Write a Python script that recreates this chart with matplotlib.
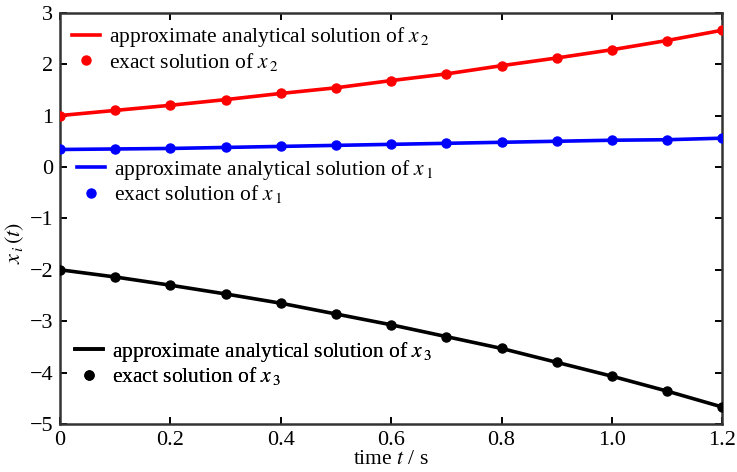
import matplotlib.pyplot as plt

# datos
t = [0.0, 0.1, 0.2, 0.3, 0.4, 0.5, 0.6, 0.7, 0.8, 0.9, 1.0, 1.1, 1.2]
x1 = [0.34, 0.35, 0.36, 0.38, 0.40, 0.42, 0.44, 0.46, 0.48, 0.50, 0.52, 0.53, 0.56]
x2 = [1.00, 1.10, 1.20, 1.31, 1.43, 1.54, 1.68, 1.81, 1.97, 2.12, 2.28, 2.46, 2.66]
x3 = [-2.00, -2.14, -2.30, -2.47, -2.65, -2.86, -3.07, -3.30, -3.53, -3.80, -4.07, -4.36, -4.67]

xticks = [0, 0.2, 0.4, 0.6, 0.8, 1.0, 1.2]
xtick_labels = ["0", "0.2", "0.4", "0.6", "0.8", "1.0", "1.2"]
yticks = [-5, -4, -3, -2, -1, 0, 1, 2, 3]

plt.rcParams['font.family'] = ['Liberation Serif', 'DejaVu Serif']
plt.rcParams['mathtext.fontset'] = 'stix'

W, H = 737, 472
fig = plt.figure(figsize=(W / 100, H / 100), dpi=100)
ax = fig.add_axes([0.0814, 0.1017, 0.8986, 0.8713])

# (datos, color, nombre, posicion de la leyenda en pixeles: x izq, y centro)
series = [
    (x2, "red", r"$x_{\,2}$", (72, 49)),
    (x1, "blue", r"$x_{\,1}$", (77, 181.5)),
    (x3, "black", r"$x_{\,3}$", (75, 363.5)),
]

for datos, color, nombre, pos in series:
    linea, = ax.plot(t, datos, color=color, lw=2.6, zorder=2)
    puntos, = ax.plot(t, datos, 'o', color=color, ms=6.5, ls='none', zorder=3)
    leg = ax.legend([linea, puntos],
                    ["approximate analytical solution of " + nombre,
                     "exact solution of " + nombre],
                    loc='center left', bbox_to_anchor=(pos[0] / W, 1 - pos[1] / H),
                    bbox_transform=fig.transFigure, frameon=False,
                    fontsize=15.5, handlelength=1.3, handletextpad=0.4,
                    labelspacing=0.05, borderpad=0, borderaxespad=0)
    ax.add_artist(leg)

ax.set_xlim(0, 1.2)
ax.set_ylim(-5, 3)
ax.set_xticks(xticks)
ax.set_xticklabels(xtick_labels)
ax.set_yticks(yticks)
ax.set_yticklabels([str(v).replace('-', '\u2212') for v in yticks])
ax.tick_params(direction='in', top=True, right=True, labelsize=16, length=5, width=1.4, pad=5)
for s in ax.spines.values():
    s.set_linewidth(1.8)
    s.set_color('#333333')

ax.set_xlabel(r"time $t$ / s", fontsize=15.5, labelpad=0)
ax.set_ylabel(r"$x_{\,i}\,(t)$", fontsize=16)
ax.yaxis.set_label_coords(-0.052, 0.44)

fig.savefig("out.png", dpi=100)
